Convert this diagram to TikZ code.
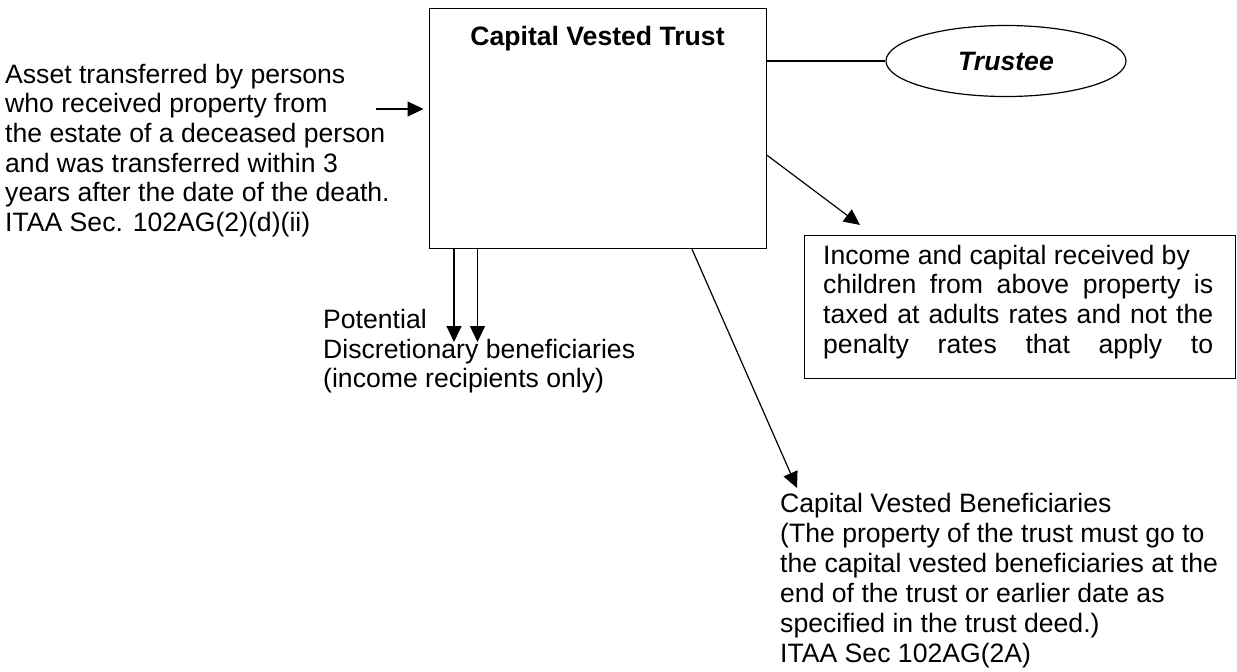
\documentclass[tikz,border=0pt]{standalone}
\usepackage{fontspec}
\setmainfont{Liberation Sans}
\usetikzlibrary{arrows.meta,shapes.geometric}
\newcommand{\fsz}{\fontsize{26.6}{29.7}\selectfont}
\tikzset{
  lw/.style={line width=1.2pt},
  arr/.style={lw,-{Triangle[length=16pt,width=15pt]}},
  boxnode/.style={draw,lw,inner sep=0pt,anchor=north west},
  txt/.style={anchor=base west,inner sep=0pt,font=\fsz},
}
\begin{document}
\begin{tikzpicture}[x=1pt,y=-1pt]
\useasboundingbox (0,0) rectangle (1237,672);
% main box
\node[boxnode,minimum width=337pt,minimum height=240pt] (trust) at (428.5,8) {};
\node[anchor=base,inner sep=0pt,font=\fsz\bfseries] (title) at (597.5,45) {Capital Vested Trust};
% trustee
\node[draw,lw,ellipse,minimum width=240pt,minimum height=71pt,inner sep=0pt,font=\fsz\bfseries\itshape] (trustee) at (1006,61) {Trustee};
\draw[lw] (trustee.west -| trust.east) -- (trustee.west);
% left text
\node[txt] (asset) at (5,83) {\parbox[t]{420pt}{\fsz Asset transferred by persons\\who received property from\\the estate of a deceased person\\and was transferred within 3\\years after the date of the death.\\ITAA Sec. 102AG(2)(d)(ii)}};
\coordinate (ain) at (376,109);
\draw[arr,shorten >=5pt] (ain) -- (ain -| trust.west);
% discretionary
\node[txt] (disc) at (323,328.5) {\parbox[t]{400pt}{\fsz Potential\\Discretionary beneficiaries\\(income recipients only)}};
\coordinate (d1) at (454,342);
\coordinate (d2) at (477.5,342);
\draw[arr] (d1 |- trust.south) -- (d1);
\draw[arr] (d2 |- trust.south) -- (d2);
% note box
\node[boxnode,minimum width=431pt,minimum height=143pt] (note) at (803.5,235) {};
\node[txt] (notetext) at (823,264) {\parbox[t]{390pt}{\fsz Income and capital received by\\\makebox[390pt][s]{children from above property is}\\\makebox[390pt][s]{taxed at adults rates and not the}\\\makebox[390pt][s]{penalty rates that apply to}}};
\coordinate (n1) at (860,225);
\draw[arr] (trust.east |- 0,155) -- (n1);
% capital vested beneficiaries
\node[txt] (cvb) at (780,512.5) {\parbox[t]{450pt}{\fsz\setlength{\baselineskip}{29.9pt}Capital Vested Beneficiaries\\(The property of the trust must go to\\the capital vested beneficiaries at the\\end of the trust or earlier date as\\specified in the trust deed.)\\ITAA Sec 102AG(2A)}};
\coordinate (b1) at (797,488);
\draw[arr] (trust.south -| 692,0) -- (b1);
\end{tikzpicture}
\end{document}
